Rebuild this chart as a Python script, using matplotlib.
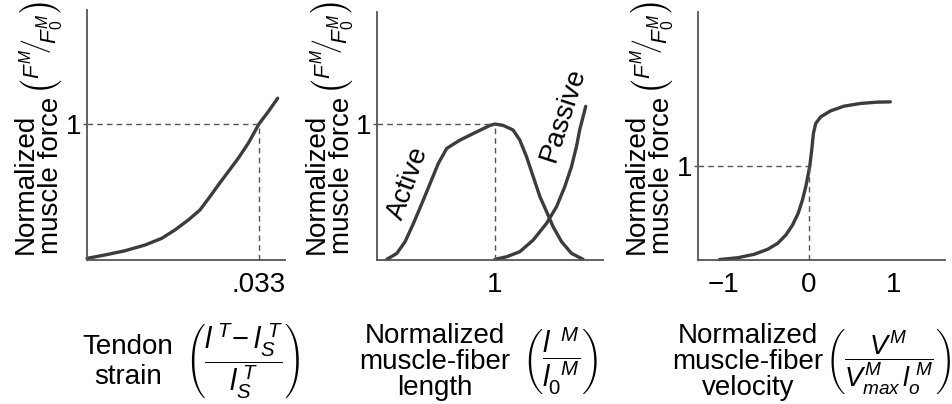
import matplotlib
matplotlib.use("Agg")
import matplotlib.pyplot as plt

plt.rcParams["font.family"] = ["Liberation Sans", "DejaVu Sans"]
plt.rcParams["mathtext.fontset"] = "custom"
plt.rcParams["mathtext.rm"] = "Liberation Sans"
plt.rcParams["mathtext.it"] = "Liberation Sans:italic"
plt.rcParams["mathtext.bf"] = "Liberation Sans:bold"
plt.rcParams["font.size"] = 20

# tendon force-strain
tendon_strain = [0.0, 0.00345, 0.00729, 0.01113, 0.01433, 0.01688, 0.01944, 0.02168,
                 0.02360, 0.02519, 0.02711, 0.02903, 0.03095, 0.03300, 0.03478, 0.03659]
tendon_force = [0.012, 0.037, 0.068, 0.110, 0.159, 0.221, 0.294, 0.368,
                0.466, 0.551, 0.649, 0.748, 0.858, 1.0, 1.090, 1.189]

# force-length (active and passive)
active_len = [0.500, 0.546, 0.584, 0.623, 0.662, 0.700, 0.738, 0.777, 0.838, 0.916,
              0.977, 1.0, 1.038, 1.084, 1.115, 1.146, 1.177, 1.208, 1.239, 1.269,
              1.308, 1.354, 1.408]
active_force = [0.005, 0.049, 0.135, 0.270, 0.417, 0.564, 0.711, 0.821, 0.882, 0.943,
                0.990, 1.0, 0.990, 0.956, 0.882, 0.760, 0.613, 0.466, 0.355, 0.245,
                0.135, 0.049, 0.005]
passive_len = [1.0, 1.054, 1.115, 1.177, 1.239, 1.285, 1.323, 1.354, 1.377, 1.392, 1.420]
passive_force = [0.005, 0.024, 0.061, 0.147, 0.270, 0.392, 0.539, 0.686, 0.833, 0.956, 1.13]

# force-velocity
velocity = [-1.049, -0.834, -0.640, -0.483, -0.366, -0.269, -0.191, -0.125, -0.074,
            -0.035, -0.004, 0.012, 0.035, 0.055, 0.082, 0.140, 0.257, 0.413, 0.608,
            0.804, 0.959]
vel_force = [0.005, 0.024, 0.061, 0.114, 0.177, 0.266, 0.372, 0.496, 0.638,
             0.780, 0.922, 1.0, 1.170, 1.348, 1.454, 1.524, 1.588, 1.638, 1.667,
             1.681, 1.684]

W, H = 952, 404
CURVE = "#3c3c3c"
AXC = "#555555"
FS = 20

fig = plt.figure(figsize=(W / 100, H / 100), dpi=100)


def px(x, y):
    return x / W, 1 - y / H


def make_axes(x0, x1, y0, y1):
    ax = fig.add_axes([x0 / W, 1 - y1 / H, (x1 - x0) / W, (y1 - y0) / H])
    for s in ("top", "right"):
        ax.spines[s].set_visible(False)
    for s in ("left", "bottom"):
        ax.spines[s].set_color(AXC)
        ax.spines[s].set_linewidth(1.3)
    ax.tick_params(axis="y", length=3, width=1, color=AXC, pad=1, labelsize=FS)
    ax.tick_params(axis="x", length=0, pad=9, labelsize=FS)
    ax.patch.set_alpha(0)
    return ax


def curve(ax, xs, ys):
    ax.plot(xs, ys, color=CURVE, lw=2.4, solid_capstyle="round",
            solid_joinstyle="round", clip_on=False)


def dashed(ax, xs, ys):
    ax.plot(xs, ys, color=AXC, lw=1.0, dashes=(4, 3), clip_on=False)


def ylabel(xc):
    fig.text(*px(xc, 254), "Normalized\nmuscle force", rotation=90,
             ha="center", va="bottom", ma="left", linespacing=0.97)
    fig.text(*px(xc + 4, 48),
             r"$\left(\left.{}^{F^{M}}\!\right/\!{}_{F^{M}_{0}}\right)$",
             rotation=90, ha="center", va="center", fontsize=23)


# panel 1: tendon
ax1 = make_axes(87, 285, 10, 260)
ax1.set_xlim(0, 0.038)
ax1.set_ylim(0, 1.838)
curve(ax1, tendon_strain, tendon_force)
dashed(ax1, [0, 0.033], [1, 1])
dashed(ax1, [0.033, 0.033], [0, 1])
ax1.set_xticks([0.033], [".033"])
ax1.set_yticks([1], ["1"])
ylabel(38)
fig.text(*px(128, 362), "Tendon\nstrain", ha="center", va="center", ma="center",
         linespacing=1.2)
fig.text(*px(242, 361), r"$\left(\dfrac{l^{\;T}\!-l^{\;T}_S}{l^{\;T}_S}\right)$",
         ha="center", va="center", fontsize=21)

# panel 2: force-length
ax2 = make_axes(377, 603, 12, 260)
ax2.set_xlim(0.454, 1.5)
ax2.set_ylim(0, 1.824)
curve(ax2, active_len, active_force)
curve(ax2, passive_len, passive_force)
dashed(ax2, [0.454, 1], [1, 1])
dashed(ax2, [1, 1], [0, 1])
ax2.set_xticks([1], ["1"])
ax2.set_yticks([1], ["1"])
ax2.text(0.598, 0.566, "Active", rotation=70, ha="center", va="center")
ax2.text(1.315, 1.07, "Passive", rotation=72, ha="center", va="center")
ylabel(329)
fig.text(*px(435, 362), "Normalized\nmuscle-fiber\nlength", ha="center", va="center",
         ma="center", linespacing=1.0)
fig.text(*px(560, 361), r"$\left(\dfrac{l^{\;\;M}}{l^{\;\;M}_0}\right)$",
         ha="center", va="center", fontsize=21)

# panel 3: force-velocity
ax3 = make_axes(698, 945, 12, 260)
ax3.set_xlim(-1.302, 1.602)
ax3.set_ylim(0, 2.641)
curve(ax3, velocity, vel_force)
dashed(ax3, [-1.302, 0], [1, 1])
dashed(ax3, [0, 0], [0, 1])
ax3.set_xticks([-1, 0, 1], ["\u22121", "0", "1"])
ax3.set_yticks([1], ["1"])
ylabel(649)
fig.text(*px(748, 362), "Normalized\nmuscle-fiber\nvelocity", ha="center", va="center",
         ma="center", linespacing=1.0)
fig.text(*px(888, 361), r"$\left(\dfrac{V^M}{V^M_{max}\,l^{\;M}_o}\right)$",
         ha="center", va="center", fontsize=19.5)

fig.savefig("out.png", dpi=100)
